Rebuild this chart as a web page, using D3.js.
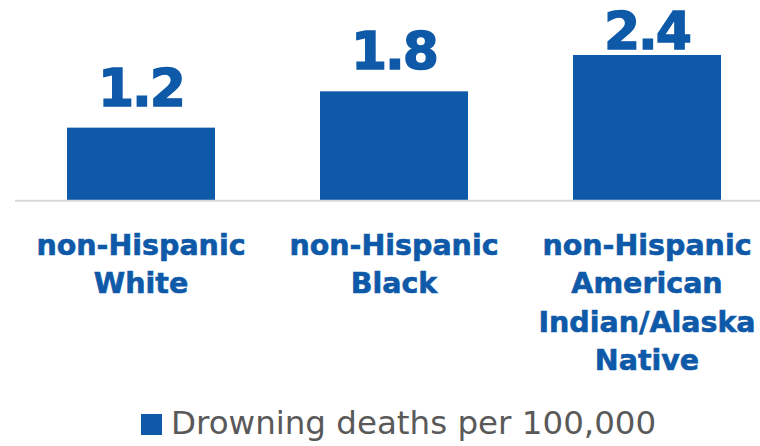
<!DOCTYPE html>
<html>
<head>
<meta charset="utf-8">
<script src="https://cdn.jsdelivr.net/npm/d3@7"></script>
<style>
  body { margin: 0; background: #fff; }
  svg { display: block; }
</style>
</head>
<body>
<div class="chart"></div>
<script>
var svgWidth = 760;
var svgHeight = 446;

// data
var categories = ["White", "Black", "American Indian/Alaska Native"];
var categoryLines = [
  ["non-Hispanic", "White"],
  ["non-Hispanic", "Black"],
  ["non-Hispanic", "American", "Indian/Alaska", "Native"]
];
var values = [1.2, 1.8, 2.4];
var valueLabels = ["1.2", "1.8", "2.4"];
var seriesName = "Drowning deaths per 100,000";

var barColor = "#0e59a8";

var svg = d3.select(".chart")
  .append("svg")
  .attr("width", svgWidth)
  .attr("height", svgHeight);

var xScale = d3.scaleBand()
  .domain(categories)
  .range([14.5, 773.5])
  .paddingInner(0.415)
  .paddingOuter(0.2075);

var yScale = d3.scaleLinear()
  .domain([0, 2.4])
  .range([200.3, 55]);

// bars
svg.selectAll("rect.bar")
  .data(values)
  .enter()
  .append("rect")
  .attr("class", "bar")
  .attr("x", (d, i) => xScale(categories[i]))
  .attr("y", d => yScale(d))
  .attr("width", xScale.bandwidth())
  .attr("height", d => yScale(0) - yScale(d))
  .attr("fill", barColor);

// baseline
var bottomAxis = d3.axisBottom(xScale).tickSize(0).tickFormat("");
var axisG = svg.append("g")
  .attr("transform", `translate(0, ${yScale(0)})`)
  .call(bottomAxis);
axisG.select(".domain")
  .attr("stroke", "#d9d9d9")
  .attr("stroke-width", 2);

// category labels, wrapped like the original
var labelG = svg.append("g");
categories.forEach(function(c, i) {
  var cx = xScale(c) + xScale.bandwidth() / 2;
  var t = labelG.append("text")
    .attr("x", cx)
    .attr("y", 255)
    .attr("text-anchor", "middle")
    .attr("fill", barColor)
    .attr("stroke", barColor)
    .attr("stroke-width", 0.6)
    .style("font-family", "'DejaVu Sans', Verdana, sans-serif")
    .style("font-weight", "bold")
    .style("font-size", "28.5px");
  categoryLines[i].forEach(function(line, j) {
    t.append("tspan")
      .attr("x", cx)
      .attr("dy", j === 0 ? 0 : 38.3)
      .text(line);
  });
});

// value labels (kept inside the top of the plot area)
svg.selectAll("text.value")
  .data(values)
  .enter()
  .append("text")
  .attr("class", "value")
  .attr("x", (d, i) => xScale(categories[i]) + xScale.bandwidth() / 2)
  .attr("y", d => Math.max(yScale(d) - 22, 48.5))
  .attr("text-anchor", "middle")
  .attr("fill", barColor)
  .attr("stroke", barColor)
  .attr("stroke-width", 1.4)
  .style("font-family", "'DejaVu Sans', Verdana, sans-serif")
  .style("font-weight", "bold")
  .style("font-size", "52px")
  .style("letter-spacing", "-2px")
  .text((d, i) => valueLabels[i]);

// legend
var legend = svg.append("g");
legend.append("rect")
  .attr("x", 141)
  .attr("y", 414)
  .attr("width", 21)
  .attr("height", 21)
  .attr("fill", barColor);
legend.append("text")
  .attr("x", 171)
  .attr("y", 433.5)
  .attr("fill", "#595959")
  .style("font-family", "'DejaVu Sans', Verdana, sans-serif")
  .style("font-size", "32.5px")
  .text(seriesName);
</script>
</body>
</html>
